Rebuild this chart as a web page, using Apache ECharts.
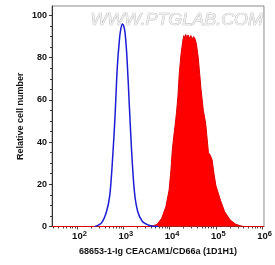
<!DOCTYPE html>
<html>
<head>
<meta charset="utf-8">
<script src="https://cdn.jsdelivr.net/npm/echarts@6/dist/echarts.min.js"></script>
<style>
    html, body {margin: 0; padding: 0; background: #fff;}
    #chart_1 {width: 275px; height: 265px;}
</style>
</head>
<body>
<div id="chart_1"></div>
<script>
// x values are log10 of the fluorescence intensity
var xLow = 1.46, xHigh = 6.04;
var decades = [2, 3, 4, 5, 6];
var yTicks = [0, 20, 40, 60, 80, 100];
var yMinorTicks = [5, 10, 15, 25, 30, 35, 45, 50, 55, 65, 70, 75, 85, 90, 95];

// isotype control (blue line)
var isoExp = [2.39, 2.53, 2.64, 2.71, 2.77, 2.82, 2.87, 2.92, 2.95, 2.98, 3.01, 3.04, 3.08, 3.13, 3.18, 3.24, 3.31, 3.41, 3.55, 3.65, 3.75];
var isoCount = [0, 1.7, 7.2, 15.1, 32.5, 51.4, 75.1, 89.3, 94, 96, 95, 91.5, 79.9, 57.7, 35.8, 16.7, 7.2, 2.5, 0.6, 0.1, 0];

// 68653-1-Ig stained cells (red filled)
var stainExp = [1.46, 3.55, 3.65, 3.73, 3.83, 3.92, 3.99, 4.03, 4.06, 4.09, 4.12, 4.15, 4.18, 4.21, 4.25, 4.29, 4.31, 4.33, 4.35, 4.37, 4.40, 4.43, 4.46, 4.49, 4.52, 4.55, 4.58, 4.62, 4.68, 4.73, 4.78, 4.84, 4.88, 4.92, 4.96, 5.00, 5.10, 5.19, 5.31, 5.42, 5.52, 5.60, 6.04];
var stainCount = [0, 0, 0.4, 1.0, 3.9, 9.4, 17.3, 26.8, 36.5, 42.5, 48, 54, 61.5, 72.6, 82.1, 88.5, 90.5, 89, 91, 89.5, 90.8, 89.2, 90.5, 88.8, 90, 89, 86.5, 80, 65, 55, 48.9, 35, 33.8, 31.5, 25, 19.5, 12.4, 7, 3.1, 1.2, 0.4, 0, 0];

var font = "'Liberation Sans', Arial, sans-serif";

function pairs(xs, ys) {
    var out = [];
    for (var i = 0; i < xs.length; i++) out.push([xs[i], ys[i]]);
    return out;
}

var minorX = [];
for (var n = 1; n <= 6; n++) {
    for (var k = 2; k <= 9; k++) {
        var v = n + Math.log10(k);
        if (v > xLow && v < xHigh) minorX.push(v);
    }
}

var chart1 = echarts.init(document.getElementById('chart_1'));
var option = {
    animation: false,
    grid: {left: 52, right: 5, top: 6, bottom: 38.5, show: true, borderColor: '#8a8a8a', borderWidth: 1},
    graphic: [{
        type: 'text', left: 90, top: 12, scaleX: 1.12,
        style: {text: 'WWW.PTGLAB.COM', font: 'italic 16px ' + font, fill: '#eeeeee', stroke: '#b8b8b8', lineWidth: 0.7}
    }],
    xAxis: [{
        type: 'value', min: xLow, max: xHigh,
        name: '68653-1-Ig CEACAM1/CD66a (1D1H1)', nameLocation: 'middle', nameGap: 21, nameMoveOverlap: false,
        nameTextStyle: {fontFamily: font, fontWeight: 'bold', fontSize: 9, color: '#111'},
        axisLine: {lineStyle: {color: '#444', width: 1}},
        axisTick: {length: 3, customValues: decades, lineStyle: {color: '#444'}},
        axisLabel: {
            customValues: decades, margin: 3,
            formatter: function (v) { return '{b|10}{s|' + v + '}'; },
            rich: {
                b: {fontFamily: font, fontWeight: 'bold', fontSize: 9.5, color: '#111', padding: [0, 0, 0, 5]},
                s: {fontFamily: font, fontWeight: 'bold', fontSize: 7.5, color: '#111', padding: [0, 0, 6, 0]}
            }
        },
        splitLine: {show: false}
    }, {
        type: 'value', min: xLow, max: xHigh, position: 'bottom',
        axisLine: {show: false},
        axisTick: {length: 2, customValues: minorX, lineStyle: {color: '#444'}},
        axisLabel: {show: false},
        splitLine: {show: false}
    }],
    yAxis: [{
        type: 'value', min: 0, max: 104.5,
        name: 'Relative cell number', nameLocation: 'middle', nameGap: 27, nameMoveOverlap: false,
        nameTextStyle: {fontFamily: font, fontWeight: 'bold', fontSize: 9, color: '#111'},
        axisLine: {show: true, lineStyle: {color: '#333', width: 1}},
        axisTick: {show: true, length: 3, customValues: yTicks, lineStyle: {color: '#333'}},
        axisLabel: {customValues: yTicks, margin: 5, fontFamily: font, fontWeight: 'bold', fontSize: 9, color: '#111'},
        splitLine: {show: false}
    }, {
        type: 'value', min: 0, max: 104.5, position: 'left',
        axisLine: {show: false},
        axisTick: {show: true, length: 2, customValues: yMinorTicks, lineStyle: {color: '#333'}},
        axisLabel: {show: false},
        splitLine: {show: false}
    }],
    series: [
        {
            name: '68653-1-Ig', type: 'line', data: pairs(stainExp, stainCount),
            symbol: 'none', smooth: false,
            lineStyle: {color: '#e00000', width: 1},
            areaStyle: {color: '#ff0000', opacity: 1},
            z: 2
        },
        {
            name: 'Isotype control', type: 'line', data: pairs(isoExp, isoCount),
            symbol: 'none', smooth: 0.3,
            lineStyle: {color: '#1c1cd4', width: 1.5},
            z: 3
        }
    ]
};
chart1.setOption(option);
</script>
</body>
</html>
